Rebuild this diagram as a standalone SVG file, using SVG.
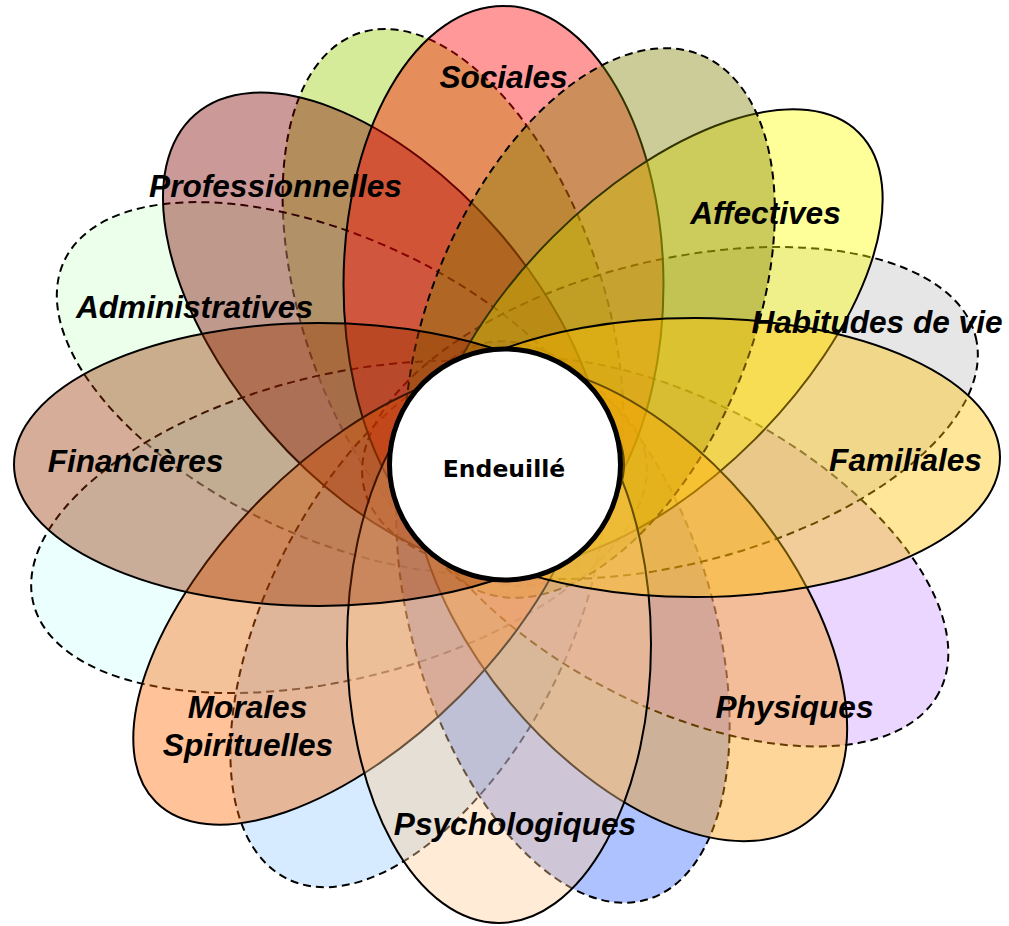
<svg xmlns="http://www.w3.org/2000/svg" width="1009" height="926" viewBox="0 0 1009 926">
<style>
.petal{stroke:#000;stroke-width:2;fill-opacity:0.4}
.dash{stroke-dasharray:8 5}
.label{font-family:"Liberation Sans",Arial,sans-serif;font-weight:bold;font-style:italic;font-size:31.6px;text-anchor:middle;fill:#000}
.center-label{font-family:"DejaVu Sans",Verdana,sans-serif;font-weight:bold;font-size:23.5px;text-anchor:middle;fill:#000}
</style>
<rect width="1009" height="926" fill="#fff"/>
<g id="petals">
<g id="node-vert"><ellipse class="petal dash" cx="453" cy="307.5" rx="290" ry="150" fill="#99cc00" transform="rotate(71 453 307.5)"/></g>
<g id="node-administratives"><ellipse class="petal dash" cx="336" cy="388" rx="300" ry="150" fill="#ccffcc" transform="rotate(25 336 388)"/></g>
<g id="node-cyan"><ellipse class="petal dash" cx="339" cy="527" rx="315" ry="152" fill="#ccffff" transform="rotate(-14 339 527)"/></g>
<g id="node-bleu-clair"><ellipse class="petal dash" cx="418" cy="620" rx="290" ry="150" fill="#99ccff" transform="rotate(117 418 620)"/></g>
<g id="node-bleu"><ellipse class="petal dash" cx="563" cy="622" rx="290" ry="150" fill="#3366ff" transform="rotate(73 563 622)"/></g>
<g id="node-violet"><ellipse class="petal dash" cx="674" cy="552" rx="300" ry="152" fill="#cc99ff" transform="rotate(28 674 552)"/></g>
<g id="node-habitudes"><ellipse class="petal dash" cx="670" cy="413" rx="315" ry="152" fill="#c0c0c0" transform="rotate(-14 670 413)"/></g>
<g id="node-professionnelles"><ellipse class="petal" cx="383.5" cy="331" rx="287" ry="152" fill="#800000" transform="rotate(49 383.5 331)"/></g>
<g id="node-sociales"><ellipse class="petal" cx="503.5" cy="285" rx="160" ry="279" fill="#ff0000"/></g>
<g id="node-affectives"><ellipse class="petal" cx="654" cy="338" rx="290" ry="143" fill="#ffff00" transform="rotate(-45 654 338)"/></g>
<g id="node-olive"><ellipse class="petal dash" cx="590" cy="323" rx="290" ry="160" fill="#808000" transform="rotate(-67.5 590 323)"/></g>
<g id="node-physiques"><ellipse class="petal" cx="630" cy="603" rx="282" ry="156" fill="#ff9900" transform="rotate(50 630 603)"/></g>
<g id="node-morales"><ellipse class="petal" cx="361" cy="597" rx="290" ry="140" fill="#ff6600" transform="rotate(-45 361 597)"/></g>
<g id="node-psychologiques"><ellipse class="petal" cx="499" cy="644" rx="152" ry="279" fill="#ffcc99"/></g>
<g id="node-financieres"><ellipse class="petal" cx="319" cy="464.5" rx="305" ry="141.5" fill="#993300"/></g>
<g id="node-familiales"><ellipse class="petal" cx="695" cy="457.5" rx="305" ry="139.5" fill="#ffc000"/></g>
</g>
<g id="node-endeuille">
<circle cx="505" cy="464.5" r="115.5" fill="#fff" stroke="#000" stroke-width="5"/>
<text class="center-label" x="504" y="477">Endeuillé</text>
</g>
<g id="labels">
<text class="label" x="503.5" y="88">Sociales</text>
<text class="label" x="275.5" y="197">Professionnelles</text>
<text class="label" x="765.5" y="224">Affectives</text>
<text class="label" x="194.5" y="318">Administratives</text>
<text class="label" x="877" y="333">Habitudes de vie</text>
<text class="label" x="135.5" y="472">Financières</text>
<text class="label" x="905.5" y="471">Familiales</text>
<text class="label" x="247.5" y="718">Morales</text>
<text class="label" x="248" y="756">Spirituelles</text>
<text class="label" x="794.5" y="718">Physiques</text>
<text class="label" x="515" y="835">Psychologiques</text>
</g>
</svg>
